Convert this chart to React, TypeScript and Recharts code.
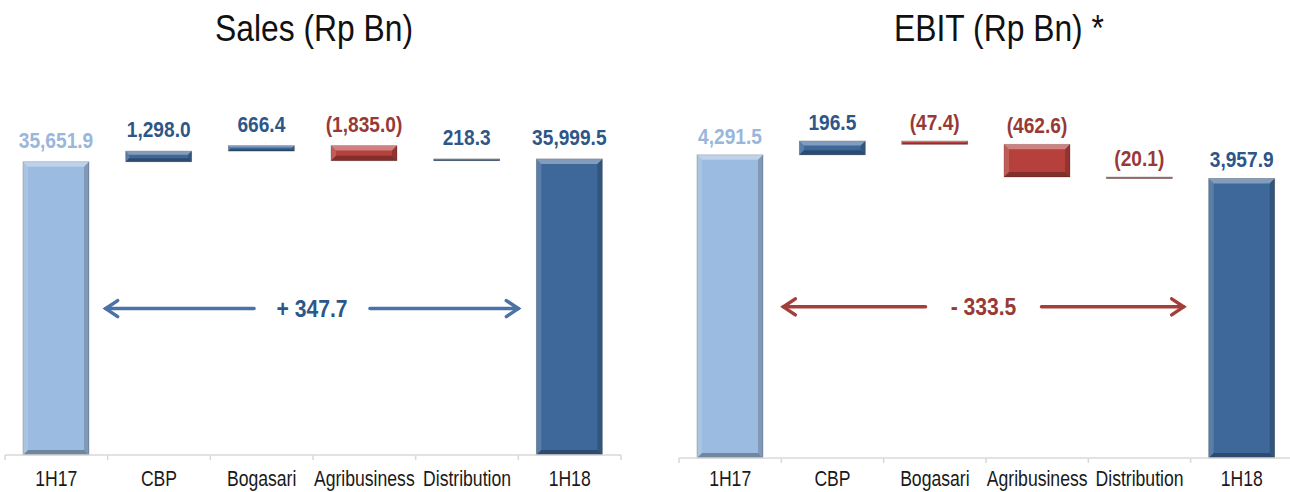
import React from "react";
import { Bar, BarChart, Cell, LabelList, XAxis, YAxis } from "recharts";

// chart data
const categories = ["1H17", "CBP", "Bogasari", "Agribusiness", "Distribution", "1H18"];
const salesValues = [35651.9, 1298.0, 666.4, -1835.0, 218.3, 35999.5];
const ebitValues = [4291.5, 196.5, -47.4, -462.6, -20.1, 3957.9];
const salesChange = 347.7;
const ebitChange = -333.5;
const salesArrowLevel = 17800;
const ebitArrowLevel = 2140;

const FONT = "'Liberation Sans', Arial, sans-serif";
const LIGHT = "#9bbbe0";
const DARK = "#3e6899";
const RED = "#b5403c";
const BLUE_TEXT = "#2d5689";
const LIGHT_TEXT = "#9ab6da";
const RED_TEXT = "#973a36";

const fmt = (v: number) => {
  const s = Math.abs(v).toLocaleString("en-US", {
    minimumFractionDigits: 1,
    maximumFractionDigits: 1,
  });
  return v < 0 ? `(${s})` : s;
};

function buildWaterfall(cats: string[], vals: number[]) {
  let run = 0;
  return cats.map((name, i) => {
    const v = vals[i];
    if (i === 0 || i === cats.length - 1) {
      run = v;
      return { name, value: v, range: [0, v] };
    }
    const start = run;
    run += v;
    return { name, value: v, range: [Math.min(start, run), Math.max(start, run)] };
  });
}

const barColor = (vals: number[], i: number) => {
  if (i === 0) return LIGHT;
  if (i === vals.length - 1) return DARK;
  return vals[i] < 0 ? RED : DARK;
};

const labelColor = (vals: number[], i: number) => {
  if (i === 0) return LIGHT_TEXT;
  return vals[i] < 0 ? RED_TEXT : BLUE_TEXT;
};

function BevelBar(props: any) {
  const { x, y, width: w, height: h, fill } = props;
  if (w == null || h == null || h <= 0) return null;
  const b = Math.min(5, h / 3, w / 3);
  return (
    <g>
      <rect x={x} y={y} width={w} height={h} fill={fill} stroke="rgba(0,0,0,0.25)" strokeWidth={0.8} />
      <polygon points={`${x},${y} ${x + w},${y} ${x + w - b},${y + b} ${x + b},${y + b}`} fill="rgba(255,255,255,0.35)" />
      <polygon points={`${x},${y} ${x + b},${y + b} ${x + b},${y + h - b} ${x},${y + h}`} fill="rgba(255,255,255,0.15)" />
      <polygon points={`${x + w},${y} ${x + w},${y + h} ${x + w - b},${y + h - b} ${x + w - b},${y + b}`} fill="rgba(0,0,0,0.18)" />
      <polygon points={`${x},${y + h} ${x + b},${y + h - b} ${x + w - b},${y + h - b} ${x + w},${y + h}`} fill="rgba(0,0,0,0.28)" />
    </g>
  );
}

interface PanelProps {
  values: number[];
  domainMax: number;
  left: number;
  width: number;
  margin: { top: number; right: number; bottom: number; left: number };
  labelGap: number;
  tickTextOffset: number;
}

function WaterfallPanel({ values, domainMax, left, width, margin, labelGap, tickTextOffset }: PanelProps) {
  const data = buildWaterfall(categories, values);
  const band = (width - margin.left - margin.right) / categories.length;

  const CategoryTick = (p: any) => {
    const { x, y, payload, index } = p;
    return (
      <g>
        <line x1={x - band / 2} y1={y} x2={x - band / 2} y2={y + 5} stroke="#d9d9d9" strokeWidth={1.5} />
        {index === categories.length - 1 && (
          <line x1={x + band / 2} y1={y} x2={x + band / 2} y2={y + 5} stroke="#d9d9d9" strokeWidth={1.5} />
        )}
        <text
          transform={`translate(${x},${y + tickTextOffset}) scale(0.8,1)`}
          textAnchor="middle"
          fontSize={22}
          fontFamily={FONT}
          fill="#1a1a1a"
        >
          {payload.value}
        </text>
      </g>
    );
  };

  const ValueLabel = (p: any) => {
    const { x, y, width: w, index } = p;
    if (x == null) return null;
    return (
      <text
        transform={`translate(${x + w / 2},${y - labelGap}) scale(0.87,1)`}
        textAnchor="middle"
        fontSize={22}
        fontWeight="bold"
        fontFamily={FONT}
        fill={labelColor(values, index)}
      >
        {fmt(values[index])}
      </text>
    );
  };

  return (
    <div style={{ position: "absolute", left, top: 0 }}>
      <BarChart width={width} height={492} data={data} margin={margin}>
        <XAxis
          dataKey="name"
          height={30}
          interval={0}
          tickSize={0}
          tickMargin={0}
          tickLine={false}
          axisLine={{ stroke: "#d9d9d9", strokeWidth: 1.5 }}
          tick={CategoryTick}
        />
        <YAxis hide domain={[0, domainMax]} />
        <Bar dataKey="range" barSize={66} shape={(p: any) => <BevelBar {...p} fill={barColor(values, p.index)} />} isAnimationActive={false}>
          {data.map((d, i) => (
            <Cell key={d.name} fill={barColor(values, i)} />
          ))}
          <LabelList dataKey="value" content={ValueLabel} />
        </Bar>
      </BarChart>
    </div>
  );
}

function ChangeArrow({ x1, x2, y, text, color, textColor }: any) {
  const mid = (x1 + x2) / 2;
  const gap = 58;
  return (
    <g stroke={color} strokeWidth={3.5} strokeLinecap="round" fill="none">
      <line x1={x1} y1={y} x2={mid - gap} y2={y} />
      <line x1={mid + gap} y1={y} x2={x2} y2={y} />
      <polyline points={`${x1 + 12},${y - 8} ${x1},${y} ${x1 + 12},${y + 8}`} />
      <polyline points={`${x2 - 12},${y - 8} ${x2},${y} ${x2 - 12},${y + 8}`} />
      <text
        transform={`translate(${mid},${y + 8}) scale(0.88,1)`}
        textAnchor="middle"
        fontSize={24}
        fontWeight="bold"
        fontFamily={FONT}
        fill={textColor}
        stroke="none"
      >
        {text}
      </text>
    </g>
  );
}

export default function App() {
  const salesMargin = { top: 126, right: 24, bottom: 7, left: 5 };
  const ebitMargin = { top: 126, right: 2, bottom: 4, left: 34 };
  const salesDomain = 40000;
  const ebitDomain = 4700;

  // arrow geometry follows the same plot layout as the panels
  const sPlotW = 645 - salesMargin.left - salesMargin.right;
  const sBottom = 492 - salesMargin.bottom - 30;
  const sY = sBottom - (salesArrowLevel / salesDomain) * (sBottom - salesMargin.top);
  const ePlotW = 650 - ebitMargin.left - ebitMargin.right;
  const eBottom = 492 - ebitMargin.bottom - 30;
  const eY = eBottom - (ebitArrowLevel / ebitDomain) * (eBottom - ebitMargin.top);
  const eLeft = 645 + ebitMargin.left;

  return (
    <div
      style={{
        position: "absolute",
        left: 0,
        top: 0,
        width: 1290,
        height: 492,
        overflow: "hidden",
        background: "#ffffff",
      }}
    >
      <WaterfallPanel values={salesValues} domainMax={salesDomain} left={0} width={645} margin={salesMargin} labelGap={14} tickTextOffset={31} />
      <WaterfallPanel values={ebitValues} domainMax={ebitDomain} left={645} width={650} margin={ebitMargin} labelGap={11} tickTextOffset={28} />
      <svg width={1290} height={492} style={{ position: "absolute", left: 0, top: 0, pointerEvents: "none" }}>
        <text transform="translate(314,41) scale(0.86,1)" textAnchor="middle" fontSize={37} fontFamily={FONT} fill="#111">
          Sales (Rp Bn)
        </text>
        <text transform="translate(999,41) scale(0.86,1)" textAnchor="middle" fontSize={37} fontFamily={FONT} fill="#111">
          EBIT (Rp Bn) *
        </text>
        <ChangeArrow
          x1={salesMargin.left + sPlotW / 6 - 2}
          x2={salesMargin.left + (sPlotW * 5) / 6}
          y={sY}
          text={`+ ${salesChange.toFixed(1)}`}
          color="#4a72a6"
          textColor="#2d5689"
        />
        <ChangeArrow
          x1={eLeft + ePlotW / 6 + 2}
          x2={eLeft + (ePlotW * 5) / 6 - 7}
          y={eY}
          text={`- ${Math.abs(ebitChange).toFixed(1)}`}
          color="#a33f3b"
          textColor={RED_TEXT}
        />
      </svg>
    </div>
  );
}
